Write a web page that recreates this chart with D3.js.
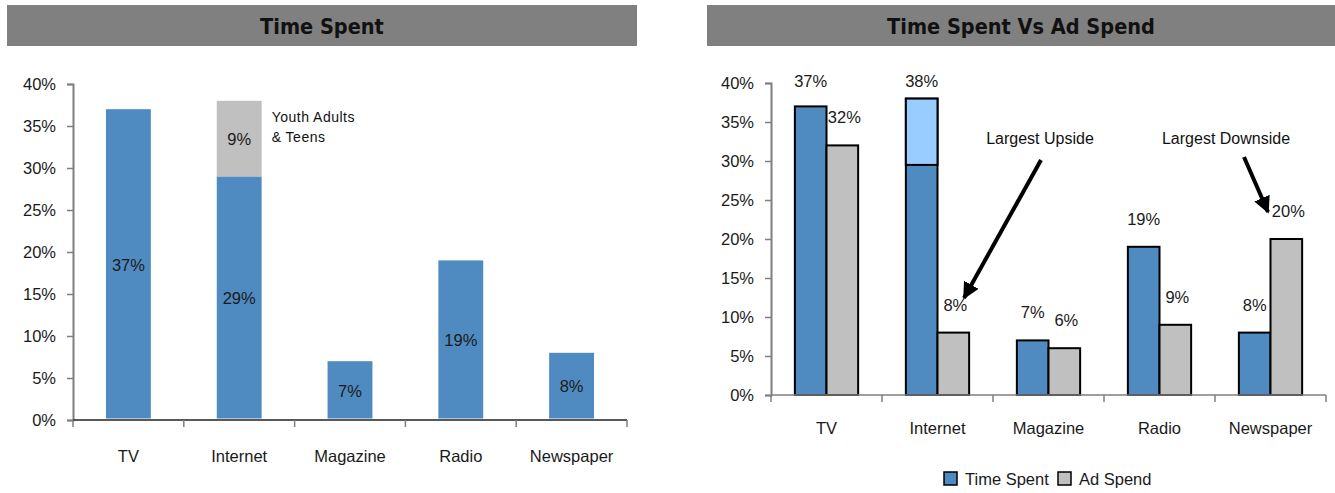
<!DOCTYPE html>
<html>
<head>
<meta charset="utf-8">
<script src="https://cdn.jsdelivr.net/npm/d3@7"></script>
<style>
  html, body { margin: 0; padding: 0; background: #fff; }
  svg { display: block; }
  .lbl { font-family: "Liberation Sans", Arial, sans-serif; font-size: 16.5px; fill: #1a1a1a; }
  .note { font-family: "Liberation Sans", Arial, sans-serif; font-size: 16px; fill: #111; }
  .hdr { font-family: "DejaVu Sans Condensed", "DejaVu Sans", sans-serif; font-weight: bold; font-size: 21.5px; fill: #111; }
</style>
</head>
<body>
<svg id="chart" width="1335" height="493"></svg>
<script>
// Media share data (percent)
const categories = ["TV", "Internet", "Magazine", "Radio", "Newspaper"];
const timeSpentCore = [37, 29, 7, 19, 8];      // left chart, base segment
const youthShare = [0, 9, 0, 0, 0];            // left chart, youth adults & teens segment
const timeSpentTotal = [37, 38, 7, 19, 8];     // right chart, time spent
const youthShareRight = [0, 8.5, 0, 0, 0];     // right chart, upper light segment
const adSpend = [32, 8, 6, 9, 20];             // right chart, ad spend
const yTicks = [0, 5, 10, 15, 20, 25, 30, 35, 40];

const colBlue = "#4f8bc0", colLight = "#99ccff", colGray = "#c0c0c0", colAxis = "#7f7f7f";
const svg = d3.select("#chart");

// Section headers
function header(x0, x1, text) {
  svg.append("rect").attr("x", x0).attr("y", 5).attr("width", x1 - x0).attr("height", 41).attr("fill", "#808080");
  svg.append("text").attr("class", "hdr").attr("x", (x0 + x1) / 2).attr("y", 34)
    .attr("text-anchor", "middle").text(text);
}
header(7, 637, "Time Spent");
header(707, 1335, "Time Spent Vs Ad Spend");

function yAxis(g, y, x) {
  const ax = d3.axisLeft(y).tickValues(yTicks).tickFormat(d => d + "%").tickSize(6).tickPadding(11);
  const a = g.append("g").attr("transform", `translate(${x},0)`).call(ax);
  a.select(".domain").attr("stroke", colAxis).attr("stroke-width", 2);
  a.selectAll(".tick line").attr("stroke", colAxis).attr("stroke-width", 1.5);
  a.selectAll(".tick text").attr("class", "lbl").attr("font-family", null).attr("font-size", null).attr("fill", null);
}

function xAxis(g, x, y0, labelY, lineColor) {
  const [r0, r1] = x.range();
  g.append("line").attr("x1", r0).attr("x2", r1).attr("y1", y0).attr("y2", y0)
    .attr("stroke", lineColor).attr("stroke-width", 1.5);
  const bounds = categories.map(c => x(c)).concat([r1]);
  g.selectAll(".xt").data(bounds).join("line")
    .attr("x1", d => d).attr("x2", d => d).attr("y1", y0).attr("y2", y0 + 7)
    .attr("stroke", colAxis).attr("stroke-width", 1.5);
  g.selectAll(".xl").data(categories).join("text")
    .attr("class", "lbl").attr("text-anchor", "middle")
    .attr("x", d => x(d) + x.bandwidth() / 2).attr("y", labelY).text(d => d);
}

// ---- Left chart: Time Spent ----
{
  const g = svg.append("g");
  const x = d3.scaleBand().domain(categories).range([73, 627]);
  const y = d3.scaleLinear().domain([0, 40]).range([420, 84]);
  const bw = x.bandwidth() * 0.405;
  const cx = c => x(c) + x.bandwidth() / 2;
  const rows = categories.map((c, i) => ({ c, core: timeSpentCore[i], youth: youthShare[i] }));

  g.selectAll(".core").data(rows).join("rect")
    .attr("x", d => cx(d.c) - bw / 2).attr("width", bw)
    .attr("y", d => y(d.core)).attr("height", d => y(0) - 1.5 - y(d.core))
    .attr("fill", colBlue);
  g.selectAll(".youth").data(rows.filter(d => d.youth > 0)).join("rect")
    .attr("x", d => cx(d.c) - bw / 2).attr("width", bw)
    .attr("y", d => y(d.core + d.youth)).attr("height", d => y(d.core) - y(d.core + d.youth))
    .attr("fill", colGray);

  g.selectAll(".vc").data(rows).join("text")
    .attr("class", "lbl").attr("text-anchor", "middle").attr("dominant-baseline", "central")
    .attr("x", d => cx(d.c)).attr("y", d => (y(d.core) + y(0)) / 2).text(d => d.core + "%");
  g.selectAll(".vy").data(rows.filter(d => d.youth > 0)).join("text")
    .attr("class", "lbl").attr("text-anchor", "middle").attr("dominant-baseline", "central")
    .attr("x", d => cx(d.c)).attr("y", d => (y(d.core) + y(d.core + d.youth)) / 2).text(d => d.youth + "%");

  const nx = cx("Internet") + bw / 2 + 10;
  g.append("text").attr("class", "note").attr("x", nx).attr("y", 122)
    .style("font-size", "14px").style("letter-spacing", "0.5px").text("Youth Adults");
  g.append("text").attr("class", "note").attr("x", nx).attr("y", 142)
    .style("font-size", "14px").style("letter-spacing", "0.5px").text("& Teens");

  yAxis(g, y, 73);
  xAxis(g, x, 420, 462, "#222");
}

// ---- Right chart: Time Spent Vs Ad Spend ----
{
  const g = svg.append("g");
  const x = d3.scaleBand().domain(categories).range([771, 1326]);
  const y = d3.scaleLinear().domain([0, 40]).range([395, 83]);
  const half = x.bandwidth() * 0.285;
  const cx = c => x(c) + x.bandwidth() / 2;
  const rows = categories.map((c, i) => ({ c, time: timeSpentTotal[i], youth: youthShareRight[i], ad: adSpend[i] }));

  g.selectAll(".tb").data(rows).join("rect")
    .attr("x", d => cx(d.c) - half).attr("width", half)
    .attr("y", d => y(d.time)).attr("height", d => y(0) - y(d.time))
    .attr("fill", colBlue).attr("stroke", "#000").attr("stroke-width", 2);
  g.selectAll(".ty").data(rows.filter(d => d.youth > 0)).join("rect")
    .attr("x", d => cx(d.c) - half).attr("width", half)
    .attr("y", d => y(d.time)).attr("height", d => y(d.time - d.youth) - y(d.time))
    .attr("fill", colLight).attr("stroke", "#000").attr("stroke-width", 2);
  g.selectAll(".ab").data(rows).join("rect")
    .attr("x", d => cx(d.c)).attr("width", half)
    .attr("y", d => y(d.ad)).attr("height", d => y(0) - y(d.ad))
    .attr("fill", colGray).attr("stroke", "#000").attr("stroke-width", 2);

  const labY = v => Math.max(y(v) - 28, 81);
  g.selectAll(".lt").data(rows).join("text")
    .attr("class", "lbl").attr("text-anchor", "middle").attr("dominant-baseline", "central")
    .attr("x", d => cx(d.c) - half / 2).attr("y", d => labY(d.time)).text(d => d.time + "%");
  g.selectAll(".la").data(rows).join("text")
    .attr("class", "lbl").attr("text-anchor", "middle").attr("dominant-baseline", "central")
    .attr("x", d => cx(d.c) + half / 2 + 2).attr("y", d => labY(d.ad)).text(d => d.ad + "%");

  yAxis(g, y, 771);
  xAxis(g, x, 395, 434, colAxis);

  // Callouts
  const defs = svg.append("defs");
  defs.append("marker").attr("id", "head").attr("viewBox", "0 0 10 10")
    .attr("refX", 9).attr("refY", 5).attr("markerWidth", 4.2).attr("markerHeight", 4.2)
    .attr("orient", "auto").attr("markerUnits", "strokeWidth")
    .append("path").attr("d", "M0,0 L10,5 L0,10 Z").attr("fill", "#000");

  g.append("text").attr("class", "note").attr("text-anchor", "middle").attr("x", 1040).attr("y", 144).text("Largest Upside");
  g.append("text").attr("class", "note").attr("text-anchor", "middle").attr("x", 1226).attr("y", 144).text("Largest Downside");
  g.append("line").attr("x1", 1041).attr("y1", 160).attr("x2", 964).attr("y2", 298)
    .attr("stroke", "#000").attr("stroke-width", 4).attr("marker-end", "url(#head)");
  g.append("line").attr("x1", 1244).attr("y1", 157).attr("x2", 1268).attr("y2", 212)
    .attr("stroke", "#000").attr("stroke-width", 4).attr("marker-end", "url(#head)");

  // Legend
  const legend = [{ name: "Time Spent", col: colBlue, x: 944 }, { name: "Ad Spend", col: colGray, x: 1058 }];
  const lg = g.selectAll(".lg").data(legend).join("g").attr("transform", d => `translate(${d.x},472)`);
  lg.append("rect").attr("width", 13).attr("height", 13).attr("fill", d => d.col).attr("stroke", "#000").attr("stroke-width", 1.5);
  lg.append("text").attr("class", "lbl").attr("x", 21).attr("y", 13).text(d => d.name);
}
</script>
</body>
</html>
